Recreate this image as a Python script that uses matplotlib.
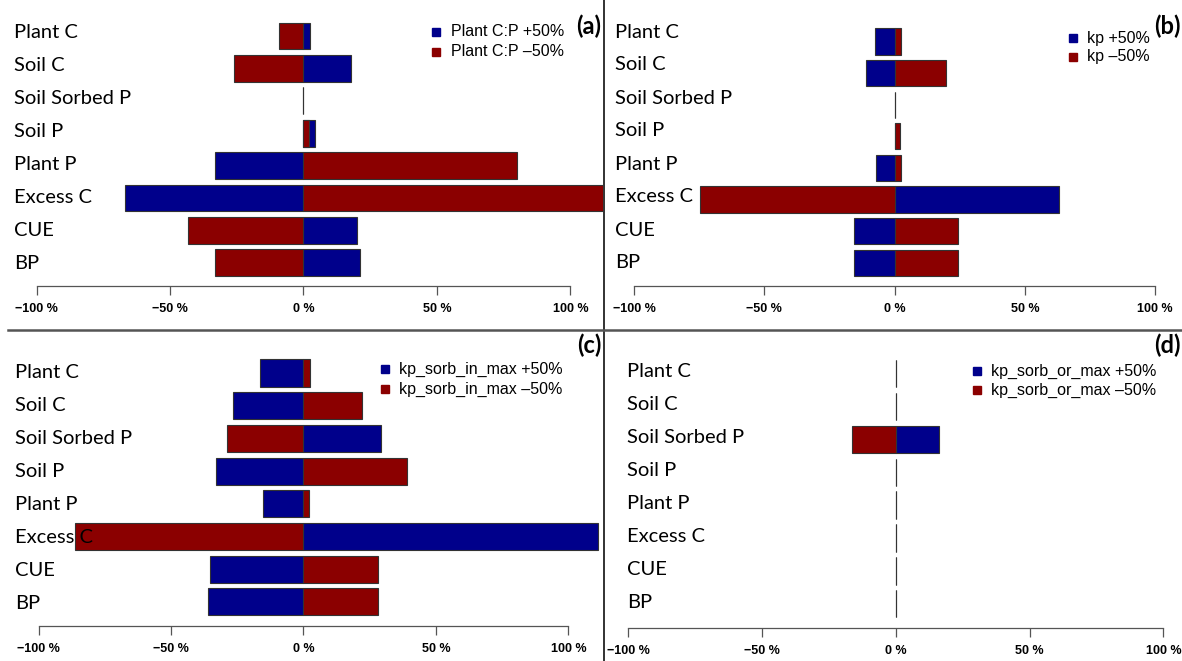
import matplotlib
matplotlib.use("Agg")
import matplotlib.pyplot as plt
from matplotlib.lines import Line2D

# data (percent change)
categories = ['Plant C', 'Soil C', 'Soil Sorbed P', 'Soil P', 'Plant P', 'Excess C', 'CUE', 'BP']

a_plus = [2.4, 17.9, 0, 4.2, -33.0, -66.8, 20.2, 21.2]
a_minus = [-9.2, -26.2, 0, 1.9, 79.8, 118, -43.1, -33.2]

b_plus = [-7.4, -11.0, 0, 0, -7.0, 63.2, -15.5, -15.8]
b_minus = [2.4, 19.7, 0, 2.1, 2.3, -74.9, 24.1, 24.2]

c_plus = [-16.3, -26.7, 29.2, -32.9, -15.3, 111, -35.4, -36.1]
c_minus = [2.3, 22.0, -29.0, 39.2, 2.2, -86.3, 28.0, 28.2]

d_plus = [0, 0, 16.2, 0, 0, 0, 0, 0]
d_minus = [0, 0, -16.2, 0, 0, 0, 0, 0]

params = ['Plant C:P', 'kp', 'kp_sorb_in_max', 'kp_sorb_or_max']
tags = ['(a)', '(b)', '(c)', '(d)']
xticks = [-100, -50, 0, 50, 100]
xticklabels = ['\u2212100 %', '\u221250 %', '0 %', '50 %', '100 %']

BLUE = '#00008B'
RED = '#8B0000'
W, H = 1182, 661

fig = plt.figure(figsize=(W / 100, H / 100), dpi=100)

# layout in pixels for each panel
layout = [
    dict(zero=303.5, ppu=2.67, left=10, right=603, y0=36, d=32.4, lab_y0=33, lab_d=32.9,
         axis_y=286, lab_x=14, sq_x=436, txt_x=451, leg_y=(32, 52), tag=(589, 26)),
    dict(zero=894.7, ppu=2.606, left=607, right=1182, y0=41.5, d=31.6, lab_y0=32, lab_d=33.0,
         axis_y=286, lab_x=615, sq_x=1073, txt_x=1087, leg_y=(38, 57), tag=(1167, 26)),
    dict(zero=303.5, ppu=2.65, left=10, right=602, y0=373, d=32.7, lab_y0=373, lab_d=32.9,
         axis_y=626, lab_x=15, sq_x=385, txt_x=399, leg_y=(369, 389), tag=(589, 345)),
    dict(zero=895.8, ppu=2.676, left=607, right=1182, y0=373.5, d=32.9, lab_y0=372, lab_d=32.9,
         axis_y=628, lab_x=627, sq_x=977, txt_x=991, leg_y=(371, 390), tag=(1167, 345)),
]

series = [(a_plus, a_minus), (b_plus, b_minus), (c_plus, c_minus), (d_plus, d_minus)]

for k, (lay, (plus, minus)) in enumerate(zip(layout, series)):
    top_px = lay['y0'] - 0.75 * lay['d']
    ax = fig.add_axes([lay['left'] / W, 1 - lay['axis_y'] / H,
                       (lay['right'] - lay['left']) / W, (lay['axis_y'] - top_px) / H])
    ax.patch.set_alpha(0)
    y = list(range(len(categories)))
    ax.barh(y, plus, height=0.83, color=BLUE, edgecolor='#333333', linewidth=0.8)
    ax.barh(y, minus, height=0.83, color=RED, edgecolor='#333333', linewidth=0.8)

    ax.set_xlim((lay['left'] - lay['zero']) / lay['ppu'], (lay['right'] - lay['zero']) / lay['ppu'])
    ax.set_ylim((lay['axis_y'] - lay['y0']) / lay['d'], (top_px - lay['y0']) / lay['d'])

    for s in ['left', 'top', 'right']:
        ax.spines[s].set_visible(False)
    ax.spines['bottom'].set_bounds(-100, 100)
    ax.spines['bottom'].set_color('#555555')
    ax.spines['bottom'].set_linewidth(0.9)
    ax.set_yticks([])
    ax.set_xticks(xticks)
    ax.set_xticklabels(xticklabels, fontsize=9, fontweight='bold', family='Liberation Sans')
    ax.tick_params(axis='x', length=6.5, width=0.9, color='#555555', pad=6)

    for i, cat in enumerate(categories):
        fig.text(lay['lab_x'] / W, 1 - (lay['lab_y0'] + i * lay['lab_d']) / H, cat,
                 fontsize=14.5, family='Lato', va='center', ha='left')

    for ly, col, sign in zip(lay['leg_y'], [BLUE, RED], ['+50%', '\u201350%']):
        fig.add_artist(Line2D([lay['sq_x'] / W], [1 - ly / H], marker='s', markersize=5.5,
                              color=col, linestyle='none', transform=fig.transFigure))
        fig.text(lay['txt_x'] / W, 1 - ly / H, f'{params[k]} {sign}', fontsize=11.5,
                 family='Liberation Sans', va='center', ha='left')

    fig.text(lay['tag'][0] / W, 1 - lay['tag'][1] / H, tags[k], fontsize=17,
             fontweight='bold', family='Lato', ha='center', va='center')

# panel dividers
fig.add_artist(Line2D([604 / W, 604 / W], [0, 1], color='#222222', linewidth=1.3,
                      transform=fig.transFigure))
fig.add_artist(Line2D([8 / W, 1], [1 - 330 / H, 1 - 330 / H], color='#555555', linewidth=1.8,
                      transform=fig.transFigure))

fig.savefig('out.png', dpi=100)
